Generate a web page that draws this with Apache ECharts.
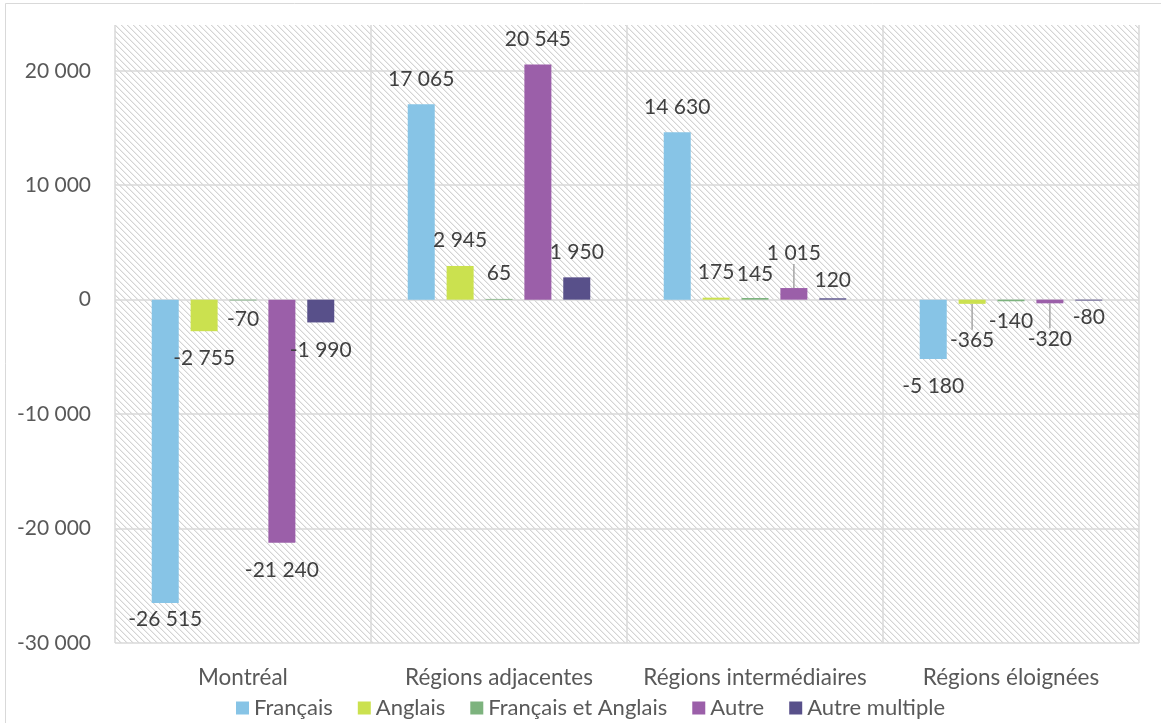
<!DOCTYPE html>
<html>
<head>
<meta charset="utf-8">
<script src="https://cdn.jsdelivr.net/npm/echarts@6/dist/echarts.min.js"></script>
<style>
html,body{margin:0;padding:0;background:#fff;}
#main{width:1161px;height:723px;}
</style>
</head>
<body>
<div id="main"></div>
<script>
// données
var regions = ['Montréal', 'Régions adjacentes', 'Régions intermédiaires', 'Régions éloignées'];
var seriesNames = ['Français', 'Anglais', 'Français et Anglais', 'Autre', 'Autre multiple'];
var francais = [-26515, 17065, 14630, -5180];
var anglais = [-2755, 2945, 175, -365];
var francaisAnglais = [-70, 65, 145, -140];
var autre = [-21240, 20545, 1015, -320];
var autreMultiple = [-1990, 1950, 120, -80];
var yTicks = [-30000, -20000, -10000, 0, 10000, 20000];

var couleurs = ['#87c4e6', '#cbe14f', '#7db37e', '#9b5fa9', '#58508a'];

// déplacement vertical de quelques étiquettes (série-catégorie)
var decalages = {
	'0-0': -11, '2-0': -9, '2-2': 2, '3-2': -9, '4-2': 7,
	'1-3': 9, '2-3': -8, '3-3': 8, '4-3': -11
};
var avecLigne = {'3-2': true, '1-3': true, '3-3': true};

function fmt(v) {
	var s = String(Math.abs(v)).replace(/\B(?=(\d{3})+(?!\d))/g, ' ');
	return (v < 0 ? '-' : '') + s;
}

// motif hachuré du fond
var motif = document.createElement('canvas');
motif.width = 6; motif.height = 6;
var ctx = motif.getContext('2d');
ctx.fillStyle = '#ffffff';
ctx.fillRect(0, 0, 6, 6);
for (var i = 0; i < 6; i++) {
	ctx.fillStyle = '#d4d4d4';
	ctx.fillRect(i, i, 1, 1);
	ctx.fillStyle = '#eeeeee';
	ctx.fillRect((i + 1) % 6, i, 1, 1);
}

var valeurs = [francais, anglais, francaisAnglais, autre, autreMultiple];

var myChart = echarts.init(document.getElementById('main'));

var series = [];
for (var s = 0; s < valeurs.length; s++) {
	var data = [];
	for (var c = 0; c < valeurs[s].length; c++) {
		var v = valeurs[s][c];
		var key = s + '-' + c;
		data.push({
			value: v,
			label: {position: v >= 0 ? 'top' : 'bottom', distance: v >= 0 ? 15 : 17},
			labelLine: {show: !!avecLigne[key]}
		});
	}
	series.push({
		name: seriesNames[s],
		type: 'bar',
		barWidth: 27,
		barGap: '44%',
		itemStyle: {color: couleurs[s]},
		label: {
			show: true,
			color: '#404040',
			fontSize: 21,
			fontFamily: 'Lato',
			formatter: function (p) { return fmt(p.value); }
		},
		labelLine: {show: false, lineStyle: {color: '#a6a6a6', width: 1.5}},
		labelLayout: (function (si) {
			return function (params) {
				var d = decalages[si + '-' + params.dataIndex];
				return d ? {dy: d} : {};
			};
		})(s),
		data: data
	});
}

var option = {
	backgroundColor: '#ffffff',
	animation: false,
	textStyle: {fontFamily: 'Lato'},
	graphic: [{
		type: 'rect',
		shape: {x: 5.5, y: 3.5, width: 1300, height: 900},
		style: {fill: 'none', stroke: '#d9d9d9', lineWidth: 1},
		silent: true
	}],
	grid: {
		left: 115, right: 22, top: 25, bottom: 80,
		show: true,
		borderWidth: 0,
		backgroundColor: {image: motif, repeat: 'repeat'}
	},
	legend: {
		data: seriesNames,
		top: 692,
		left: 231,
		icon: 'rect',
		itemWidth: 13,
		itemHeight: 13,
		itemGap: 25,
		textStyle: {fontSize: 22, color: '#595959', fontFamily: 'Lato'}
	},
	xAxis: {
		type: 'category',
		data: regions,
		axisLine: {show: false, onZero: false},
		axisTick: {show: false},
		axisLabel: {interval: 0, fontSize: 22.5, color: '#595959', margin: 23, fontFamily: 'Lato'},
		splitLine: {show: true, interval: 0, lineStyle: {color: '#d9d9d9', width: 1.5}}
	},
	yAxis: {
		type: 'value',
		min: yTicks[0],
		max: 24000,
		interval: 10000,
		axisLine: {show: false},
		axisTick: {show: false},
		axisLabel: {
			fontSize: 21, color: '#595959', margin: 24, fontFamily: 'Lato',
			showMaxLabel: false,
			formatter: function (v) { return fmt(v); }
		},
		splitLine: {show: true, showMaxLine: false, lineStyle: {color: '#d9d9d9', width: 1.5}}
	},
	series: series
};

myChart.setOption(option);
</script>
</body>
</html>
